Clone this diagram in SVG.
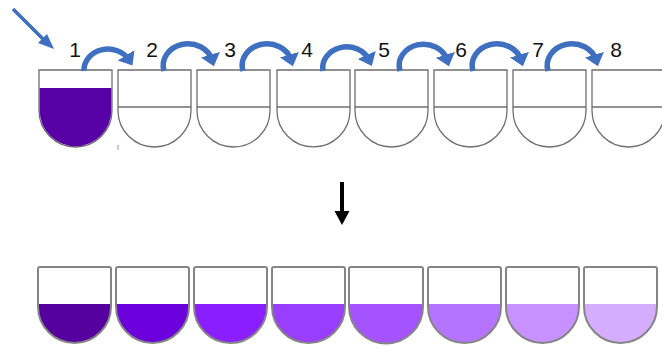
<svg xmlns="http://www.w3.org/2000/svg" width="662" height="347" viewBox="0 0 662 347">
<style>
.well{fill:#fff;stroke:#6e6e6e;stroke-width:1.3}
.div{stroke:#6e6e6e;stroke-width:1.3}
.bw{fill:none;stroke:#858585;stroke-width:2}
.lbl{font-family:"Liberation Sans",Arial,sans-serif;font-size:21px;fill:#111;text-anchor:middle}
.curve{fill:none;stroke:#3f6fc0;stroke-width:5.5}
</style>
<defs>
<marker id="bh" markerWidth="4" markerHeight="4" refX="1" refY="2" orient="auto" markerUnits="strokeWidth">
<path d="M0,0.2 L2.2,2 L0,3.8 Z" fill="#3f6fc0"/>
</marker>
</defs>
<rect width="662" height="347" fill="#fff"/>
<g id="top-wells">
<g id="t1"><path class="well" d="M39,70 H112 V110.5 A36.5,36.5 0 0 1 39,110.5 Z"/><path d="M39.7,88 H111.3 V110.5 A35.8,35.8 0 0 1 39.7,110.5 Z" fill="#5600a6"/></g>
<g id="t2"><path class="well" d="M118,70 H191 V110.5 A36.5,36.5 0 0 1 118,110.5 Z"/><line class="div" x1="118" y1="107" x2="191" y2="107"/></g>
<g id="t3"><path class="well" d="M197,70 H270 V110.5 A36.5,36.5 0 0 1 197,110.5 Z"/><line class="div" x1="197" y1="107" x2="270" y2="107"/></g>
<g id="t4"><path class="well" d="M277,70 H350 V110.5 A36.5,36.5 0 0 1 277,110.5 Z"/><line class="div" x1="277" y1="107" x2="350" y2="107"/></g>
<g id="t5"><path class="well" d="M355,70 H428 V110.5 A36.5,36.5 0 0 1 355,110.5 Z"/><line class="div" x1="355" y1="107" x2="428" y2="107"/></g>
<g id="t6"><path class="well" d="M434,70 H507 V110.5 A36.5,36.5 0 0 1 434,110.5 Z"/><line class="div" x1="434" y1="107" x2="507" y2="107"/></g>
<g id="t7"><path class="well" d="M513,70 H586 V110.5 A36.5,36.5 0 0 1 513,110.5 Z"/><line class="div" x1="513" y1="107" x2="586" y2="107"/></g>
<g id="t8"><path class="well" d="M592,70 H665 V110.5 A36.5,36.5 0 0 1 592,110.5 Z"/><line class="div" x1="592" y1="107" x2="665" y2="107"/></g>
<line x1="118" y1="145" x2="118" y2="150" stroke="#999" stroke-width="1"/>
</g>
<g id="labels">
<text class="lbl" x="75" y="57">1</text>
<text class="lbl" x="152" y="57">2</text>
<text class="lbl" x="230" y="57">3</text>
<text class="lbl" x="307" y="57">4</text>
<text class="lbl" x="384" y="57">5</text>
<text class="lbl" x="461" y="57">6</text>
<text class="lbl" x="538" y="57">7</text>
<text class="lbl" x="616" y="57">8</text>
</g>
<g id="connectors">
<path class="curve" marker-end="url(#bh)" d="M84,71 A24,21 0 0 1 129,60"/>
<path class="curve" marker-end="url(#bh)" d="M164,71 A24,21 0 0 1 212,60"/>
<path class="curve" marker-end="url(#bh)" d="M243,71 A24,21 0 0 1 291,60"/>
<path class="curve" marker-end="url(#bh)" d="M323,71 A24,21 0 0 1 369,60"/>
<path class="curve" marker-end="url(#bh)" d="M400,71 A24,21 0 0 1 447,60"/>
<path class="curve" marker-end="url(#bh)" d="M473,71 A24,21 0 0 1 521,60"/>
<path class="curve" marker-end="url(#bh)" d="M548,71 A24,21 0 0 1 596,60"/>
<line x1="13" y1="9" x2="45" y2="41" stroke="#3f6fc0" stroke-width="3.5"/>
<polygon points="54,49 38,43 47,34" fill="#3f6fc0"/>
<line x1="342" y1="182" x2="342" y2="213" stroke="#000" stroke-width="4"/>
<polygon points="334.5,211 349.5,211 342,225" fill="#000"/>
</g>
<g id="bottom-wells">
<g id="b1"><path d="M38,304 H111 V306.5 A36.5,36.5 0 0 1 38,306.5 Z" fill="#5600a0"/><path class="bw" d="M40,267 H109 Q111,267 111,269 V306.5 A36.5,36.5 0 0 1 38,306.5 V269 Q38,267 40,267 Z"/></g>
<g id="b2"><path d="M116,304 H189 V306.5 A36.5,36.5 0 0 1 116,306.5 Z" fill="#6b00dc"/><path class="bw" d="M118,267 H187 Q189,267 189,269 V306.5 A36.5,36.5 0 0 1 116,306.5 V269 Q116,267 118,267 Z"/></g>
<g id="b3"><path d="M194,304 H267 V306.5 A36.5,36.5 0 0 1 194,306.5 Z" fill="#8a1eff"/><path class="bw" d="M196,267 H265 Q267,267 267,269 V306.5 A36.5,36.5 0 0 1 194,306.5 V269 Q194,267 196,267 Z"/></g>
<g id="b4"><path d="M272,304 H345 V306.5 A36.5,36.5 0 0 1 272,306.5 Z" fill="#993dff"/><path class="bw" d="M274,267 H343 Q345,267 345,269 V306.5 A36.5,36.5 0 0 1 272,306.5 V269 Q272,267 274,267 Z"/></g>
<g id="b5"><path d="M349,304 H423 V306.5 A37,37 0 0 1 349,306.5 Z" fill="#a553ff"/><path class="bw" d="M351,267 H421 Q423,267 423,269 V306.5 A37,37 0 0 1 349,306.5 V269 Q349,267 351,267 Z"/></g>
<g id="b6"><path d="M428,304 H501 V306.5 A36.5,36.5 0 0 1 428,306.5 Z" fill="#b574ff"/><path class="bw" d="M430,267 H499 Q501,267 501,269 V306.5 A36.5,36.5 0 0 1 428,306.5 V269 Q428,267 430,267 Z"/></g>
<g id="b7"><path d="M506,304 H579 V306.5 A36.5,36.5 0 0 1 506,306.5 Z" fill="#c792ff"/><path class="bw" d="M508,267 H577 Q579,267 579,269 V306.5 A36.5,36.5 0 0 1 506,306.5 V269 Q506,267 508,267 Z"/></g>
<g id="b8"><path d="M584,304 H657 V306.5 A36.5,36.5 0 0 1 584,306.5 Z" fill="#d5adff"/><path class="bw" d="M586,267 H655 Q657,267 657,269 V306.5 A36.5,36.5 0 0 1 584,306.5 V269 Q584,267 586,267 Z"/></g>
</g>
</svg>
